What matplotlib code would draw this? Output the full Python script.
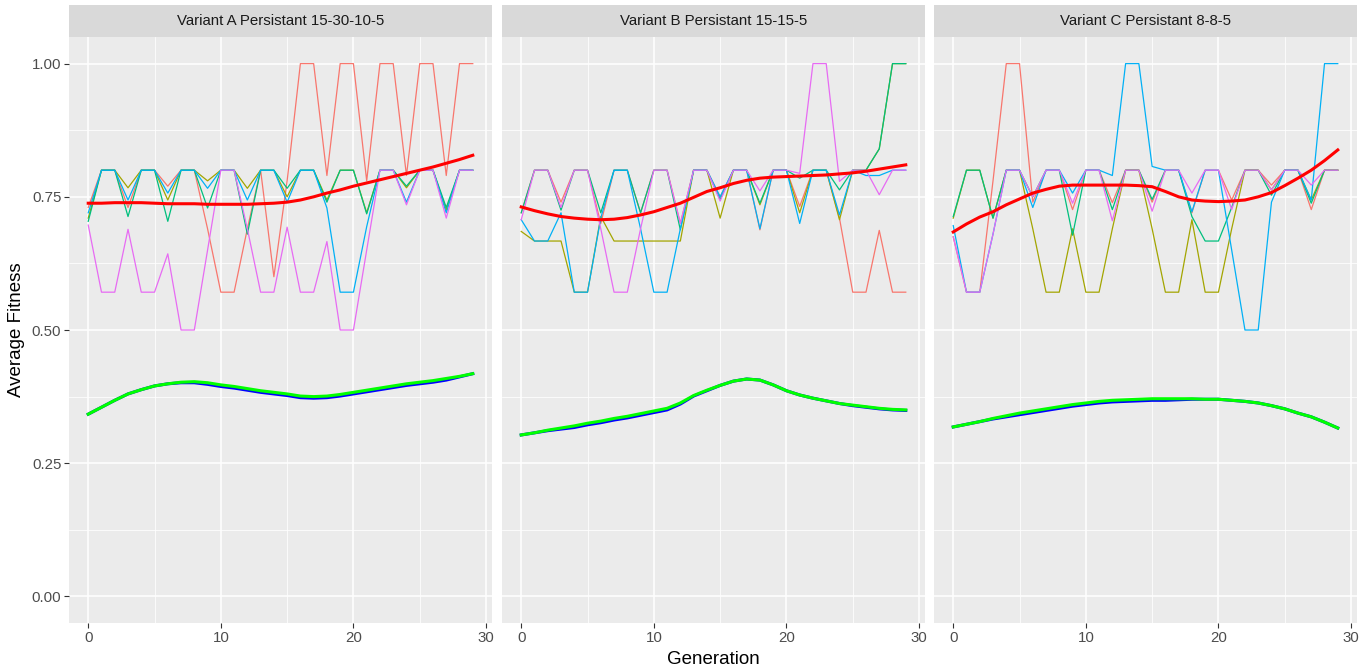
import numpy as np
import matplotlib
matplotlib.use("Agg")
import matplotlib.pyplot as plt

plt.rcParams['font.family'] = ['Liberation Sans', 'DejaVu Sans']

gens = list(range(30))

panel_titles = ["Variant A Persistant 15-30-10-5",
                "Variant B Persistant 15-15-5",
                "Variant C Persistant 8-8-5"]

# ggplot hue palette for the five runs
run_colors = ['#F8766D', '#A3A500', '#00BF7D', '#00B0F6', '#E76BF3']

# Variant A
a_run1 = [0.73, 0.8, 0.8, 0.73, 0.8, 0.8, 0.77, 0.8, 0.8, 0.69, 0.571, 0.571, 0.69, 0.8, 0.6,
          0.78, 1, 1, 0.79, 1, 1, 0.78, 1, 1, 0.79, 1, 1, 0.79, 1, 1]
a_run2 = [0.71, 0.8, 0.8, 0.767, 0.8, 0.8, 0.744, 0.8, 0.8, 0.78, 0.8, 0.8, 0.766, 0.8, 0.8,
          0.75, 0.8, 0.8, 0.744, 0.8, 0.8, 0.72, 0.8, 0.8, 0.767, 0.8, 0.8, 0.725, 0.8, 0.8]
a_run3 = [0.704, 0.8, 0.8, 0.713, 0.8, 0.8, 0.704, 0.8, 0.8, 0.729, 0.8, 0.8, 0.68, 0.8, 0.8,
          0.766, 0.8, 0.8, 0.74, 0.8, 0.8, 0.718, 0.8, 0.8, 0.77, 0.8, 0.8, 0.73, 0.8, 0.8]
a_run4 = [0.72, 0.8, 0.8, 0.744, 0.8, 0.8, 0.757, 0.8, 0.8, 0.766, 0.8, 0.8, 0.744, 0.8, 0.8,
          0.74, 0.8, 0.8, 0.729, 0.571, 0.571, 0.694, 0.8, 0.8, 0.74, 0.8, 0.8, 0.72, 0.8, 0.8]
a_run5 = [0.697, 0.571, 0.571, 0.689, 0.571, 0.571, 0.643, 0.5, 0.5, 0.65, 0.8, 0.8, 0.69, 0.571, 0.571,
          0.693, 0.571, 0.571, 0.666, 0.5, 0.5, 0.65, 0.8, 0.8, 0.735, 0.8, 0.8, 0.71, 0.8, 0.8]
a_smooth = [0.738, 0.738, 0.739, 0.739, 0.739, 0.738, 0.737, 0.737, 0.737, 0.736, 0.736, 0.736, 0.736,
            0.737, 0.738, 0.740, 0.744, 0.750, 0.757, 0.763, 0.770, 0.776, 0.782, 0.788, 0.794, 0.800,
            0.806, 0.813, 0.820, 0.828]
a_green = [0.342, 0.355, 0.368, 0.38, 0.388, 0.395, 0.399, 0.402, 0.403, 0.401, 0.397, 0.394, 0.390,
           0.386, 0.383, 0.380, 0.376, 0.375, 0.376, 0.379, 0.383, 0.387, 0.391, 0.395, 0.399, 0.402,
           0.405, 0.409, 0.413, 0.418]
a_blue = [0.342, 0.355, 0.368, 0.38, 0.388, 0.395, 0.399, 0.401, 0.401, 0.398, 0.394, 0.391, 0.387,
          0.383, 0.380, 0.377, 0.373, 0.372, 0.373, 0.376, 0.380, 0.384, 0.388, 0.392, 0.396, 0.399,
          0.402, 0.406, 0.412, 0.418]

# Variant B
b_run1 = [0.72, 0.8, 0.8, 0.74, 0.8, 0.8, 0.7, 0.8, 0.8, 0.72, 0.8, 0.8, 0.70, 0.8, 0.8,
          0.75, 0.8, 0.8, 0.688, 0.8, 0.8, 0.732, 0.8, 0.8, 0.71, 0.571, 0.571, 0.687, 0.571, 0.571]
b_run2 = [0.685, 0.667, 0.667, 0.667, 0.571, 0.571, 0.713, 0.667, 0.667, 0.667, 0.667, 0.667, 0.667, 0.8, 0.8,
          0.71, 0.8, 0.8, 0.735, 0.8, 0.8, 0.72, 0.8, 0.8, 0.707, 0.8, 0.8, 0.84, 1, 1]
b_run3 = [0.72, 0.8, 0.8, 0.725, 0.8, 0.8, 0.72, 0.8, 0.8, 0.72, 0.8, 0.8, 0.688, 0.8, 0.8,
          0.745, 0.8, 0.8, 0.738, 0.8, 0.8, 0.785, 0.8, 0.8, 0.763, 0.8, 0.8, 0.84, 1, 1]
b_run4 = [0.707, 0.667, 0.667, 0.72, 0.571, 0.571, 0.71, 0.8, 0.8, 0.69, 0.571, 0.571, 0.69, 0.8, 0.8,
          0.75, 0.8, 0.8, 0.69, 0.8, 0.8, 0.70, 0.8, 0.8, 0.716, 0.8, 0.79, 0.79, 0.8, 0.8]
b_run5 = [0.707, 0.8, 0.8, 0.73, 0.8, 0.8, 0.69, 0.571, 0.571, 0.69, 0.8, 0.8, 0.7, 0.8, 0.8,
          0.742, 0.8, 0.8, 0.761, 0.8, 0.8, 0.794, 1, 1, 0.779, 0.8, 0.8, 0.754, 0.8, 0.8]
b_smooth = [0.731, 0.724, 0.718, 0.713, 0.710, 0.708, 0.707, 0.708, 0.711, 0.716, 0.722, 0.730, 0.738,
            0.749, 0.760, 0.767, 0.775, 0.781, 0.785, 0.787, 0.788, 0.789, 0.790, 0.791, 0.793, 0.795,
            0.798, 0.802, 0.806, 0.810]
b_green = [0.303, 0.307, 0.312, 0.316, 0.320, 0.325, 0.329, 0.334, 0.338, 0.343, 0.348, 0.353, 0.363,
           0.377, 0.387, 0.396, 0.404, 0.408, 0.406, 0.397, 0.386, 0.378, 0.372, 0.367, 0.362, 0.359,
           0.356, 0.353, 0.351, 0.350]
b_blue = [0.303, 0.307, 0.311, 0.314, 0.317, 0.322, 0.326, 0.331, 0.335, 0.340, 0.345, 0.350, 0.361,
          0.376, 0.386, 0.396, 0.404, 0.408, 0.406, 0.397, 0.386, 0.378, 0.372, 0.367, 0.362, 0.358,
          0.355, 0.352, 0.350, 0.349]

# Variant C
c_run1 = [0.675, 0.571, 0.571, 0.78, 1, 1, 0.74, 0.8, 0.8, 0.726, 0.8, 0.8, 0.739, 0.8, 0.8,
          0.74, 0.8, 0.8, 0.72, 0.8, 0.8, 0.744, 0.8, 0.8, 0.772, 0.8, 0.8, 0.726, 0.8, 0.8]
c_run2 = [0.71, 0.8, 0.8, 0.71, 0.8, 0.8, 0.69, 0.571, 0.571, 0.69, 0.571, 0.571, 0.69, 0.8, 0.8,
          0.69, 0.571, 0.571, 0.707, 0.571, 0.571, 0.69, 0.8, 0.8, 0.763, 0.8, 0.8, 0.744, 0.8, 0.8]
c_run3 = [0.713, 0.8, 0.8, 0.71, 0.8, 0.8, 0.75, 0.8, 0.8, 0.678, 0.8, 0.8, 0.726, 0.8, 0.8,
          0.745, 0.8, 0.8, 0.713, 0.667, 0.667, 0.73, 0.8, 0.8, 0.753, 0.8, 0.8, 0.738, 0.8, 0.8]
c_run4 = [0.696, 0.571, 0.571, 0.68, 0.8, 0.8, 0.73, 0.8, 0.8, 0.757, 0.8, 0.8, 0.79, 1, 1,
          0.807, 0.8, 0.8, 0.722, 0.8, 0.8, 0.65, 0.5, 0.5, 0.74, 0.8, 0.8, 0.744, 1, 1]
c_run5 = [0.675, 0.571, 0.571, 0.68, 0.8, 0.8, 0.75, 0.8, 0.8, 0.738, 0.8, 0.8, 0.705, 0.8, 0.8,
          0.723, 0.8, 0.8, 0.757, 0.8, 0.8, 0.726, 0.8, 0.8, 0.763, 0.8, 0.8, 0.772, 0.8, 0.8]
c_smooth = [0.684, 0.699, 0.712, 0.722, 0.735, 0.746, 0.757, 0.764, 0.770, 0.772, 0.772, 0.772, 0.772,
            0.772, 0.771, 0.769, 0.760, 0.750, 0.744, 0.742, 0.741, 0.742, 0.744, 0.750, 0.758, 0.771,
            0.785, 0.800, 0.818, 0.838]
c_green = [0.318, 0.323, 0.328, 0.334, 0.339, 0.344, 0.348, 0.352, 0.356, 0.360, 0.363, 0.366, 0.368,
           0.369, 0.370, 0.371, 0.371, 0.371, 0.371, 0.370, 0.370, 0.368, 0.366, 0.363, 0.358, 0.352,
           0.344, 0.337, 0.327, 0.316]
c_blue = [0.318, 0.323, 0.328, 0.333, 0.337, 0.341, 0.345, 0.349, 0.353, 0.357, 0.360, 0.363, 0.365,
          0.366, 0.367, 0.368, 0.368, 0.369, 0.370, 0.370, 0.370, 0.368, 0.366, 0.363, 0.358, 0.352,
          0.344, 0.337, 0.327, 0.316]

panels = [
    ([a_run1, a_run2, a_run3, a_run4, a_run5], a_smooth, a_blue, a_green),
    ([b_run1, b_run2, b_run3, b_run4, b_run5], b_smooth, b_blue, b_green),
    ([c_run1, c_run2, c_run3, c_run4, c_run5], c_smooth, c_blue, c_green),
]

W, H = 1370, 670
fig = plt.figure(figsize=(W / 100, H / 100), dpi=100)

panel_left = [69, 502, 934]
panel_w = 423
panel_top, panel_bot = 37, 623
strip_top = 5

for i, (runs, smooth, blue, green) in enumerate(panels):
    x0 = panel_left[i]
    ax = fig.add_axes([x0 / W, 1 - panel_bot / H, panel_w / W, (panel_bot - panel_top) / H])
    ax.set_facecolor('#EBEBEB')
    for s in ax.spines.values():
        s.set_visible(False)

    ax.set_xlim(-1.45, 30.45)
    ax.set_ylim(-0.05, 1.05)
    ax.set_xticks([0, 10, 20, 30])
    ax.set_xticks([5, 15, 25], minor=True)
    ax.set_yticks([0, 0.25, 0.5, 0.75, 1.0])
    ax.set_yticks([0.125, 0.375, 0.625, 0.875], minor=True)
    ax.grid(which='major', color='white', lw=1.1)
    ax.grid(which='minor', color='white', lw=0.55)
    ax.set_axisbelow(True)

    ax.tick_params(which='major', length=3.5, width=0.8, color='#333333',
                   labelsize=10.8, labelcolor='#4D4D4D', pad=2)
    ax.tick_params(which='minor', length=0)
    ax.set_xticklabels(['0', '10', '20', '30'])
    if i == 0:
        ax.set_yticklabels(['0.00', '0.25', '0.50', '0.75', '1.00'])
    else:
        ax.tick_params(axis='y', which='major', length=0, labelleft=False)

    for run, col in zip(runs, run_colors):
        ax.plot(gens, run, color=col, lw=0.9)
    ax.plot(gens, smooth, color='#FF0000', lw=2.2)
    ax.plot(gens, blue, color='#0000FF', lw=2.2)
    ax.plot(gens, green, color='#00FF00', lw=2.2)

    strip = fig.add_axes([x0 / W, 1 - panel_top / H, panel_w / W, (panel_top - strip_top) / H])
    strip.set_facecolor('#D9D9D9')
    strip.set_xticks([])
    strip.set_yticks([])
    for s in strip.spines.values():
        s.set_visible(False)
    strip.text(0.5, 0.5, panel_titles[i], ha='center', va='center',
               fontsize=10.8, color='#1A1A1A', transform=strip.transAxes)

fig.text((69 + 1357) / 2 / W, 1 - 660 / H, 'Generation', ha='center', va='center', fontsize=13.5)
fig.text(17 / W, 1 - 330 / H, 'Average Fitness', ha='center', va='center',
         rotation=90, fontsize=13.5)

fig.savefig('out.png', dpi=100, facecolor='white')
